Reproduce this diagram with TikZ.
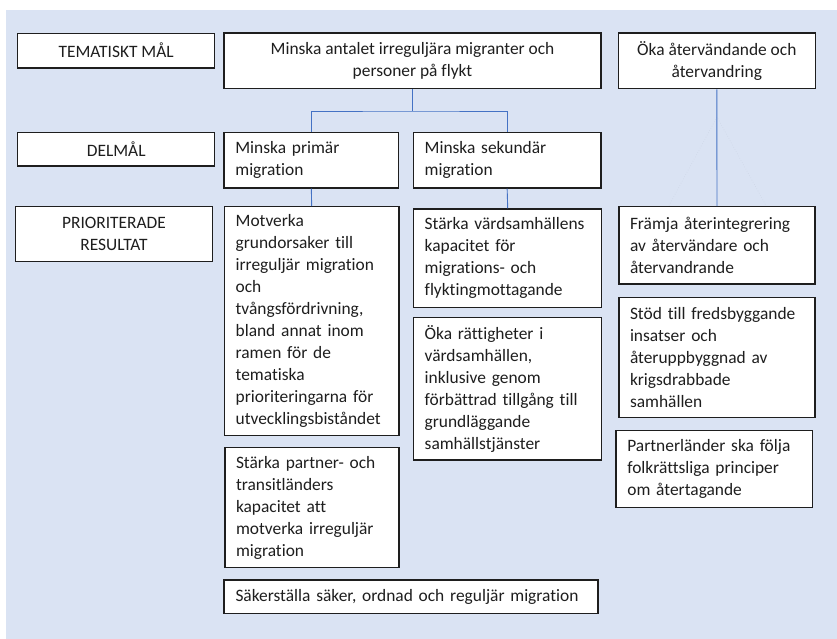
\documentclass[tikz,border=0pt]{standalone}
\usepackage{fontspec}
\setmainfont[Ligatures=CommonOff]{Carlito}
\definecolor{bgblue}{HTML}{DAE3F3}
\definecolor{connblue}{HTML}{4472C4}
\definecolor{txt}{HTML}{1E1E1E}
\definecolor{faint}{HTML}{CBD3E3}
\begin{document}
\begin{tikzpicture}[x=1pt,y=-1pt,
  box/.style={draw=txt,line width=1.3pt,fill=white,text=txt,inner xsep=11pt,inner ysep=0pt,
    font=\fontsize{17.4}{22}\selectfont},
  lbox/.style={box,align=left},
  cbox/.style={box,align=center},
  conn/.style={draw=connblue,line width=0.9pt},
  faintline/.style={draw=faint,dotted,line width=0.5pt}]
\useasboundingbox (0,0) rectangle (837,639);
\fill[bgblue] (6,10) rectangle (837,639);

% left labels
\node[cbox,minimum width=197pt,minimum height=34.7pt] (tm) at (116.2,50.7) {TEMATISKT MÅL};
\node[cbox,minimum width=197pt,minimum height=33.7pt] (dm) at (116.2,149.15) {DELMÅL};
\node[cbox,minimum width=196.6pt,minimum height=55pt] (pr) at (114,234.2) {PRIORITERADE\\RESULTAT};

% top row
\node[cbox,minimum width=377pt,minimum height=55.7pt] (main) at (412.5,60.85) {Minska antalet irreguljära migranter och\\personer på flykt};
\node[cbox,minimum width=197pt,minimum height=55.7pt] (ret) at (716.8,60.85) {Öka återvändande och\\återvandring};

% delmål
\node[lbox,text width=152pt,minimum width=174.7pt,minimum height=55.7pt] (prim) at (311.35,160.15) {Minska primär\\migration};
\node[lbox,text width=165pt,minimum width=187.7pt,minimum height=55.7pt] (sek) at (507.15,160.15) {Minska sekundär\\migration};

% prioriterade resultat
\node[lbox,text width=152pt,minimum width=174.7pt,minimum height=229pt] (mot) at (311.65,321.2) {Motverka\\grundorsaker till\\irreguljär migration\\och\\tvångsfördrivning,\\bland annat inom\\ramen för de\\tematiska\\prioriteringarna för\\utvecklingsbiståndet};
\node[lbox,text width=152pt,minimum width=174pt,minimum height=120.4pt] (stp) at (312,507.5) {Stärka partner- och\\transitländers\\kapacitet att\\motverka irreguljär\\migration};
\node[lbox,text width=351pt,minimum width=374pt,minimum height=33.7pt] (sak) at (411,596.85) {Säkerställa säker, ordnad och reguljär migration};

\node[lbox,text width=166pt,minimum width=188pt,minimum height=98.3pt] (vard) at (507.7,258.15) {Stärka värdsamhällens\\kapacitet för\\migrations- och\\flyktingmottagande};
\node[lbox,text width=166pt,minimum width=188pt,minimum height=142.7pt] (ratt) at (507.7,388.65) {Öka rättigheter i\\värdsamhällen,\\inklusive genom\\förbättrad tillgång till\\grundläggande\\samhällstjänster};

\node[lbox,text width=174pt,minimum width=196pt,minimum height=77.3pt] (framja) at (717,245.35) {Främja återintegrering\\av återvändare och\\återvandrande};
\node[lbox,text width=174pt,minimum width=196pt,minimum height=120.4pt] (stod) at (717,357.5) {Stöd till fredsbyggande\\insatser och\\återuppbyggnad av\\krigsdrabbade\\samhällen};
\node[lbox,text width=174pt,minimum width=196.7pt,minimum height=77pt] (partner) at (714.35,469.2) {Partnerländer ska följa\\folkrättsliga principer\\om återtagande};

% faint dotted guide lines
\coordinate (apex) at (717,117);
\coordinate (fl) at (669,205.5);
\coordinate (fr) at (766,205.5);
\draw[faintline] (fl) -- (apex) -- (fr);

% connectors
\coordinate (j) at (412.5,111);
\draw[conn] (main.south) -- (j);
\draw[conn] (prim.north) |- (j) -| (sek.north);
\draw[conn] (prim.south) -- (mot.north);
\draw[conn] (sek.south) -- (vard.north);
\draw[conn] (ret.south) -- (framja.north);
\end{tikzpicture}
\end{document}
